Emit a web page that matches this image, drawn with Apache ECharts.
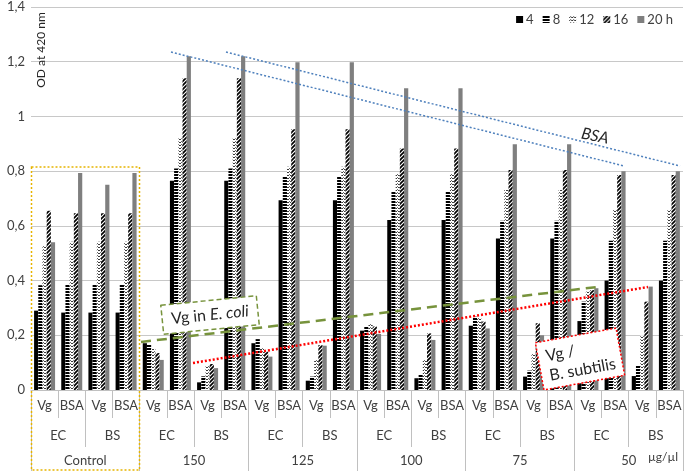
<!DOCTYPE html>
<html>
<head>
<meta charset="utf-8">
<script src="https://cdn.jsdelivr.net/npm/echarts@6/dist/echarts.min.js"></script>
<style>
html,body{margin:0;padding:0;background:#fff;}
#main{width:686px;height:471px;}
</style>
</head>
<body>
<div id="main"></div>
<script>
// ---- data ----
const subLabels = ['Vg','BSA','Vg','BSA','Vg','BSA','Vg','BSA','Vg','BSA','Vg','BSA','Vg','BSA','Vg','BSA','Vg','BSA','Vg','BSA','Vg','BSA','Vg','BSA'];
const strainLabels = ['EC','BS','EC','BS','EC','BS','EC','BS','EC','BS','EC','BS'];
const groupLabels = ['Control','150','125','100','75','50'];
const seriesNames = ['4','8','12','16','20 h'];
const yTicks = [0,0.2,0.4,0.6,0.8,1,1.2,1.4];
const s4  = [0.29,0.283,0.283,0.283, 0.171,0.765,0.028,0.765, 0.171,0.694,0.034,0.694, 0.217,0.621,0.043,0.621, 0.235,0.554,0.049,0.554, 0.252,0.40,0.051,0.40];
const s8  = [0.383,0.387,0.387,0.387, 0.165,0.81,0.05,0.81, 0.186,0.78,0.049,0.78, 0.234,0.725,0.058,0.725, 0.268,0.619,0.071,0.619, 0.323,0.546,0.091,0.546];
const s12 = [0.53,0.542,0.542,0.542, 0.15,0.92,0.09,0.92, 0.153,0.816,0.11,0.816, 0.244,0.792,0.11,0.792, 0.264,0.731,0.134,0.731, 0.36,0.658,0.2,0.658];
const s16 = [0.655,0.646,0.646,0.646, 0.135,1.14,0.095,1.14, 0.14,0.953,0.164,0.953, 0.232,0.883,0.207,0.883, 0.25,0.804,0.244,0.804, 0.365,0.786,0.323,0.786];
const s20 = [0.54,0.793,0.75,0.793, 0.11,1.22,0.08,1.22, 0.122,1.198,0.162,1.198, 0.205,1.103,0.183,1.103, 0.225,0.898,0.2,0.898, 0.372,0.80,0.378,0.80];
const seriesData = [s4, s8, s12, s16, s20];

// ---- patterns ----
function pat(kind){
  const c = document.createElement('canvas');
  const ctx = c.getContext('2d');
  if(kind==='h'){
    c.width=4; c.height=3;
    ctx.fillStyle='#fff'; ctx.fillRect(0,0,4,3);
    ctx.fillStyle='#000'; ctx.fillRect(0,0,4,2);
  } else if(kind==='w'){
    c.width=6; c.height=3;
    ctx.fillStyle='#fff'; ctx.fillRect(0,0,6,3);
    ctx.strokeStyle='#3a3a3a'; ctx.lineWidth=1;
    ctx.beginPath(); ctx.moveTo(0,2); ctx.lineTo(1.5,0.5); ctx.lineTo(3,2); ctx.lineTo(4.5,0.5); ctx.lineTo(6,2); ctx.stroke();
  } else {
    c.width=4; c.height=4;
    ctx.fillStyle='#fff'; ctx.fillRect(0,0,4,4);
    ctx.strokeStyle='#000'; ctx.lineWidth=1.7;
    ctx.beginPath(); ctx.moveTo(-1,5); ctx.lineTo(5,-1); ctx.stroke();
    ctx.beginPath(); ctx.moveTo(-1,1); ctx.lineTo(1,-1); ctx.stroke();
    ctx.beginPath(); ctx.moveTo(3,5); ctx.lineTo(5,3); ctx.stroke();
  }
  return {image:c, repeat:'repeat'};
}
const colors = ['#000000', pat('h'), pat('w'), pat('d'), '#7f7f7f'];

const FONT = 'Lato, "Open Sans", sans-serif';
const chart = echarts.init(document.getElementById('main'), null, {renderer:'canvas'});

const series = seriesNames.map((n,i)=>({
  name:n, type:'bar', xAxisIndex:0, yAxisIndex:0,
  data: seriesData[i], barWidth:4.2, barGap:'0%',
  itemStyle:{color: colors[i]},
  emphasis:{disabled:true}, animation:false
}));

const axisGray = '#c0c0c0';
chart.setOption({
  animation:false,
  textStyle:{fontFamily:FONT},
  grid:{left:31, right:3, top:7, bottom:81, containLabel:false},
  legend:{
    data:seriesNames, right:8, top:8, itemWidth:7, itemHeight:7, itemGap:9,
    icon:'rect', textStyle:{fontSize:13, color:'#404040', fontFamily:FONT, padding:[0,0,0,-2]},
    selectedMode:false
  },
  xAxis:[
    {type:'category', data:subLabels, position:'bottom', offset:0,
     axisLine:{show:true, lineStyle:{color:axisGray}},
     axisTick:{show:true, length:28, interval:0, lineStyle:{color:axisGray}},
     axisLabel:{interval:0, margin:9, fontSize:13, color:'#404040', fontFamily:FONT},
     splitLine:{show:false}},
    {type:'category', data:strainLabels, position:'bottom', offset:0,
     axisLine:{show:false},
     axisTick:{show:true, length:57, interval:0, lineStyle:{color:axisGray}},
     axisLabel:{interval:0, margin:39, fontSize:13, color:'#404040', fontFamily:FONT},
     splitLine:{show:false}},
    {type:'category', data:groupLabels, position:'bottom', offset:0,
     axisLine:{show:false},
     axisTick:{show:true, length:81, interval:0, lineStyle:{color:axisGray}},
     axisLabel:{interval:0, margin:64, fontSize:13, color:'#404040', fontFamily:FONT},
     splitLine:{show:false}}
  ],
  yAxis:{type:'value', min:yTicks[0], max:yTicks[yTicks.length-1], interval:0.2,
    axisLine:{show:false}, axisTick:{show:false},
    axisLabel:{fontSize:13, color:'#404040', margin:6, fontFamily:FONT,
      formatter:v=>String(Math.round(v*10)/10).replace('.',',')},
    splitLine:{lineStyle:{color:'#c8c8c8', width:1}}
  },
  series: series,
  graphic:[
    {type:'text', x:41, y:50, rotation:Math.PI/2, z:100,
     style:{text:'OD at 420 nm', fontSize:12, fontFamily:FONT, fill:'#262626', align:'center', verticalAlign:'middle'}},
    {type:'rect', z:90, shape:{x:31.5, y:167, width:108, height:303},
     style:{fill:null, stroke:'#e6b400', lineWidth:1.5, lineDash:[2,2]}},
    {type:'line', z:100, shape:{x1:171,y1:52,x2:624,y2:166},
     style:{stroke:'#4f81bd', lineWidth:1.5, lineDash:[2,2]}},
    {type:'line', z:100, shape:{x1:226,y1:52,x2:680,y2:166},
     style:{stroke:'#4f81bd', lineWidth:1.5, lineDash:[2,2]}},
    {type:'text', z:100, x:595, y:136, rotation:-0.2,
     style:{text:'BSA', fontSize:16, fontStyle:'italic', fontFamily:FONT, fill:'#262626', align:'center', verticalAlign:'middle'}},
    {type:'line', z:100, shape:{x1:141,y1:342,x2:597,y2:287},
     style:{stroke:'#77933c', lineWidth:2.5, lineDash:[10,6]}},
    {type:'group', z:110, x:210, y:315, rotation:0.1, children:[
      {type:'rect', z:110, shape:{x:-48, y:-14.5, width:96, height:29},
       style:{fill:'#ffffff', stroke:'#77933c', lineWidth:1.5, lineDash:[5,3]}},
      {type:'text', z:111, x:0, y:0,
       style:{text:'{a|Vg in }{b|E. coli}', align:'center', verticalAlign:'middle',
         rich:{a:{fontSize:16, fontFamily:FONT, fill:'#262626', color:'#262626'},
               b:{fontSize:16, fontFamily:FONT, fontStyle:'italic', fill:'#262626', color:'#262626'}}}}
    ]},
    {type:'line', z:100, shape:{x1:193,y1:363,x2:648,y2:287},
     style:{stroke:'#ff0000', lineWidth:2.5, lineDash:[2,2]}},
    {type:'group', z:110, x:580, y:359, rotation:0.18, children:[
      {type:'rect', z:110, shape:{x:-41, y:-24, width:82, height:48},
       style:{fill:'#ffffff', stroke:'#ff0000', lineWidth:1.5, lineDash:[2,2]}},
      {type:'text', z:111, x:-33, y:1,
       style:{text:'Vg /\nB. subtilis', align:'left', verticalAlign:'middle', fontSize:16, lineHeight:20, fontFamily:FONT, fill:'#262626'}}
    ]},
    {type:'text', z:100, x:648, y:457,
     style:{text:'µg/µl', fontSize:12, fontFamily:FONT, fill:'#404040', align:'left', verticalAlign:'middle'}}
  ]
});
</script>
</body>
</html>
